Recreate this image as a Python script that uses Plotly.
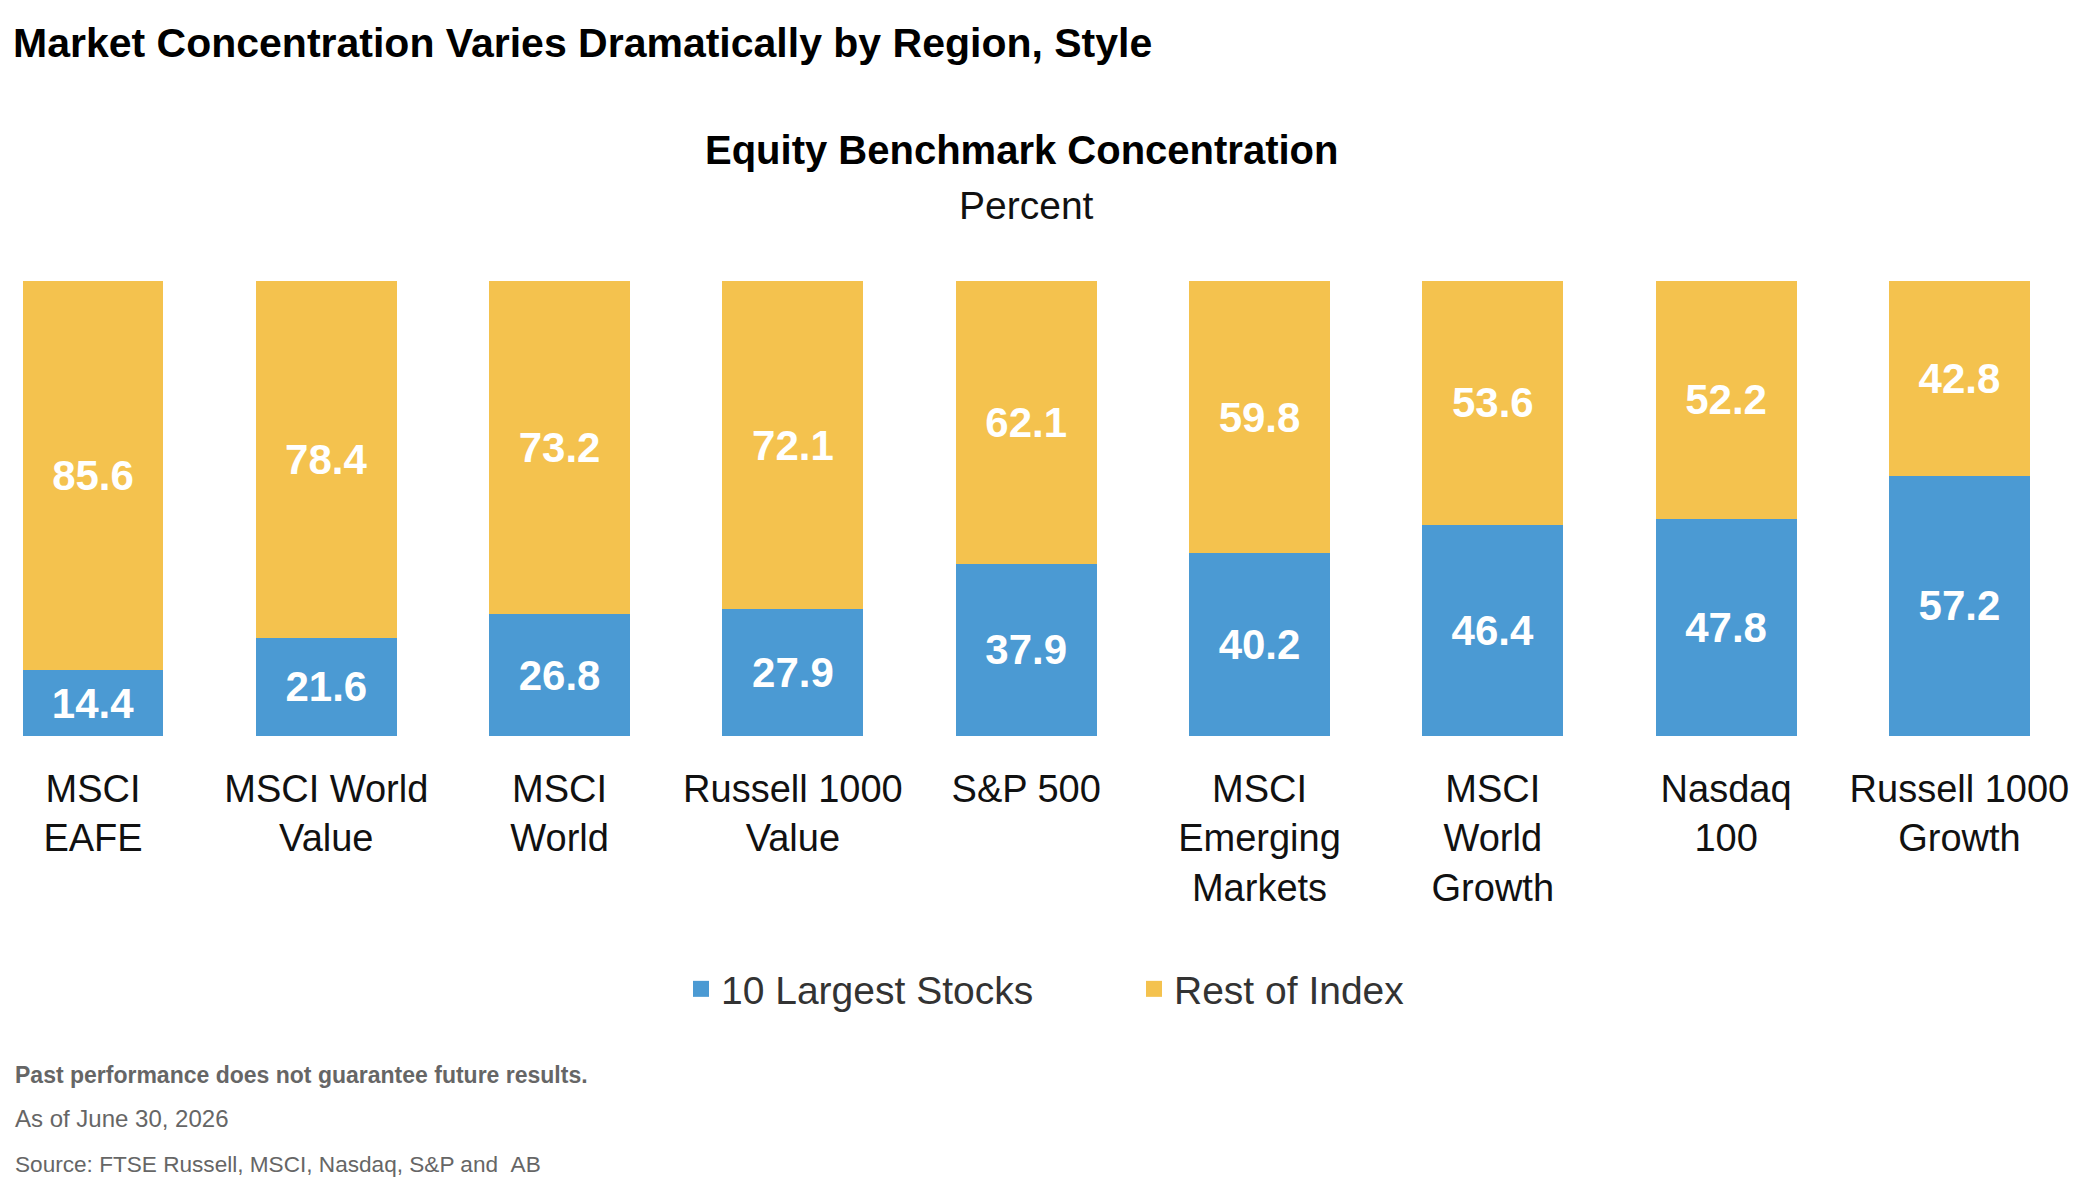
import plotly.graph_objects as go

categories = ["MSCI<br>EAFE", "MSCI World<br>Value", "MSCI<br>World", "Russell 1000<br>Value",
              "S&P 500", "MSCI<br>Emerging<br>Markets", "MSCI<br>World<br>Growth", "Nasdaq<br>100",
              "Russell 1000<br>Growth"]
largest10 = [14.4, 21.6, 26.8, 27.9, 37.9, 40.2, 46.4, 47.8, 57.2]
rest_of_index = [85.6, 78.4, 73.2, 72.1, 62.1, 59.8, 53.6, 52.2, 42.8]

BLUE = "#4B9AD3"
GOLD = "#F4C24E"
OFF = 8  # page body margin
W, H = 2096 - 2 * OFF, 1202 - 2 * OFF
T = 281 - OFF
PLOT_BOTTOM = 736 - OFF
B = H - PLOT_BOTTOM
PH = PLOT_BOTTOM - T
STEP = 233.3
C0 = 93 - OFF

def py(Y):
    return (PLOT_BOTTOM - Y) / PH

fig = go.Figure()
for name, vals, col in [("10 Largest Stocks", largest10, BLUE), ("Rest of Index", rest_of_index, GOLD)]:
    fig.add_trace(go.Bar(
        x=list(range(len(categories))), y=vals, name=name, marker=dict(color=col, line=dict(width=0)),
        text=[f"{v:.1f}" for v in vals], textposition="inside", insidetextanchor="middle",
        constraintext="none",
        textfont=dict(family="Liberation Sans", size=42, color="white", weight="bold"),
        showlegend=False, hoverinfo="skip"))
    fig.add_trace(go.Scatter(x=[None], y=[None], mode="markers", name=name,
                             marker=dict(symbol="square", size=16, color=col), showlegend=True))

annotations = [
    dict(text="Equity Benchmark Concentration", x=(1021 - OFF) / W, y=py(150 - OFF), xref="paper", yref="paper",
         showarrow=False, xanchor="center", yanchor="middle",
         font=dict(family="Liberation Sans", size=40, color="#000000", weight="bold")),
    dict(text="Percent", x=(1026 - OFF) / W, y=py(206 - OFF), xref="paper", yref="paper",
         showarrow=False, xanchor="center", yanchor="middle",
         font=dict(family="Liberation Sans", size=39, color="#111111")),
    dict(text="Past performance does not guarantee future results.", x=(13 - OFF) / W, y=py(1067),
         xref="paper", yref="paper", showarrow=False, xanchor="left", yanchor="middle",
         font=dict(family="Liberation Sans", size=23, color="#666666", weight="bold")),
    dict(text="As of June 30, 2026", x=(13 - OFF) / W, y=py(1110),
         xref="paper", yref="paper", showarrow=False, xanchor="left", yanchor="middle",
         font=dict(family="Liberation Sans", size=24, color="#666666")),
    dict(text="Source: FTSE Russell, MSCI, Nasdaq, S&P and &nbsp;AB", x=(13 - OFF) / W, y=py(1156),
         xref="paper", yref="paper", showarrow=False, xanchor="left", yanchor="middle",
         font=dict(family="Liberation Sans", size=22.6, color="#666666")),
]

fig.update_layout(
    width=W, height=H,
    margin=dict(l=0, r=0, t=T, b=B),
    paper_bgcolor="white", plot_bgcolor="white",
    barmode="stack", bargap=0.396,
    title=dict(text="Market Concentration Varies Dramatically by Region, Style",
               x=(13 - OFF) / W, xanchor="left", xref="paper", y=1 - (43 - OFF) / H, yanchor="middle",
               yref="container",
               font=dict(family="Liberation Sans", size=41, color="#000000", weight="bold")),
    xaxis=dict(range=[-C0 / STEP, (W - C0) / STEP], tickmode="array",
               tickvals=list(range(len(categories))), ticktext=categories,
               showgrid=False, zeroline=False, showline=False, ticks="",
               ticklabelstandoff=27,
               tickfont=dict(family="Liberation Sans", size=38, color="#111111")),
    yaxis=dict(range=[0, 100], visible=False, showgrid=False, zeroline=False),
    legend=dict(orientation="h", x=673 / W, xanchor="left", y=py(981), yanchor="middle",
                traceorder="normal",
                font=dict(family="Liberation Sans", size=39, color="#333333"),
                entrywidth=408, itemwidth=30),
    annotations=annotations,
)

fig.write_html("out.html")
